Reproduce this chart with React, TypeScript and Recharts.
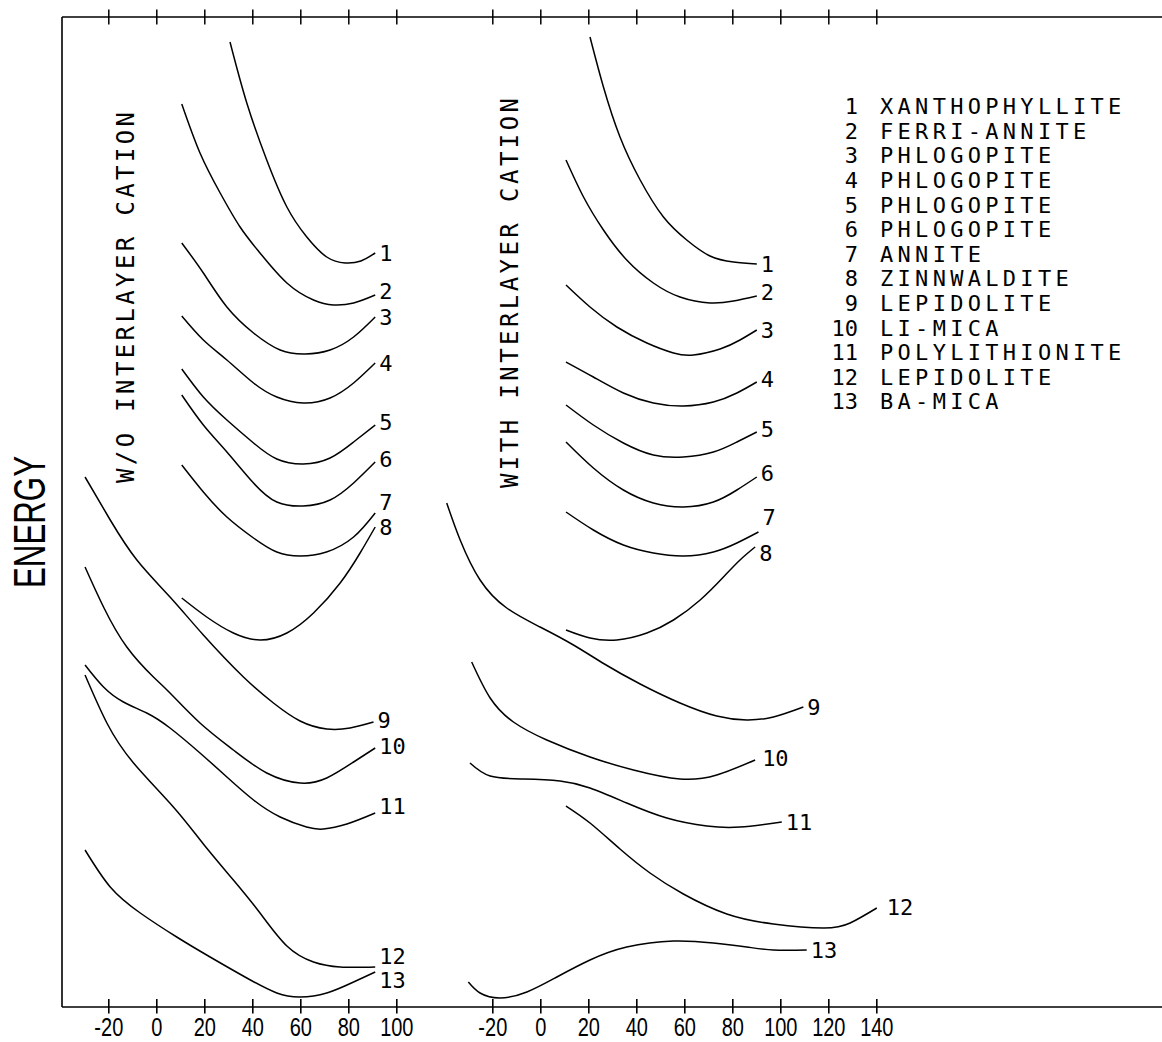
import React from 'react'
import { LineChart, Line, XAxis, YAxis, LabelList, ReferenceLine } from 'recharts'

type Pt = [number, number]

// x as printed under each panel, e = relative energy (arbitrary units, 0 at the baseline)
const leftTicks = [-20, 0, 20, 40, 60, 80, 100]
const rightTicks = [-20, 0, 20, 40, 60, 80, 100, 120, 140]
const PANEL_OFFSET = 160 // the right panel's 0 sits 160 units to the right of the left one

const minerals = [
  'XANTHOPHYLLITE',
  'FERRI-ANNITE',
  'PHLOGOPITE',
  'PHLOGOPITE',
  'PHLOGOPITE',
  'PHLOGOPITE',
  'ANNITE',
  'ZINNWALDITE',
  'LEPIDOLITE',
  'LI-MICA',
  'POLYLITHIONITE',
  'LEPIDOLITE',
  'BA-MICA',
]

// W/O interlayer cation
const wo1: Pt[] = [[30.5, 96.5], [37.5, 90.4], [45.8, 84.7], [54.2, 80.0], [62.5, 77.0], [70.8, 75.0], [78.5, 74.4], [85, 74.6], [91, 75.4]]
const wo2: Pt[] = [[10.4, 90.3], [18, 85.4], [26.4, 81.4], [34.7, 78.0], [43, 75.4], [54.2, 72.4], [65.3, 70.7], [73.6, 70.2], [82, 70.4], [91, 71.2]]
const wo3: Pt[] = [[10.4, 76.4], [19.4, 73.4], [29.2, 70.0], [40.3, 67.4], [51.4, 65.7], [61.8, 65.3], [72.2, 65.7], [82, 67.0], [91, 69.0]]
const wo4: Pt[] = [[10.4, 69.1], [19.4, 66.7], [29.2, 64.7], [40.3, 62.4], [50, 61.0], [61, 60.4], [72.2, 60.9], [82, 62.4], [91, 64.4]]
const wo5: Pt[] = [[10.4, 63.8], [19.4, 61.0], [29.2, 58.7], [40.3, 56.4], [50, 54.8], [61, 54.3], [72.2, 54.9], [82, 56.5], [91, 58.2]]
const wo6: Pt[] = [[10.4, 61.2], [19.4, 58.2], [29.2, 55.5], [40.3, 52.4], [50, 50.5], [61, 50.1], [72.2, 50.7], [82, 52.4], [91, 54.5]]
const wo7: Pt[] = [[10.4, 54.2], [19.4, 51.5], [29.2, 49.0], [40.3, 46.9], [50, 45.5], [59.7, 45.1], [70.7, 45.5], [82, 47.0], [91, 49.4]]
const wo8: Pt[] = [[10.4, 40.9], [20.8, 39.0], [31.9, 37.4], [43, 36.7], [54.2, 37.4], [65.3, 39.4], [76.4, 42.4], [84.7, 45.4], [91, 48.0]]
const wo9: Pt[] = [[-29.9, 53.0], [-19.4, 48.7], [-8.3, 44.7], [5.5, 41.0], [19.4, 37.2], [36.1, 33.0], [48.6, 30.4], [59.7, 28.6], [70.8, 27.8], [80.5, 27.9], [90.3, 28.5]]
const wo10: Pt[] = [[-29.9, 44.0], [-22.2, 40.0], [-12.5, 36.0], [-1.4, 33.0], [5.5, 31.4], [18, 28.4], [31.9, 25.7], [45.8, 23.4], [59.7, 22.4], [70.8, 22.9], [82, 24.5], [91, 25.9]]
const wo11: Pt[] = [[-29.9, 34.2], [-22.2, 32.0], [-13.9, 30.5], [-4.2, 29.4], [5.5, 27.9], [18, 25.4], [29.2, 23.0], [40.3, 20.7], [51.4, 19.0], [62.4, 18.0], [69.4, 17.8], [79.2, 18.3], [91, 19.4]]
const wo12: Pt[] = [[-29.9, 33.2], [-20.8, 28.4], [-9.7, 24.4], [6.9, 20.0], [19.4, 16.3], [31.9, 12.7], [43, 9.4], [54.2, 6.1], [65.3, 4.5], [76.4, 4.0], [91, 4.0]]
const wo13: Pt[] = [[-29.9, 15.7], [-19.4, 12.0], [-6.9, 9.4], [8.3, 7.0], [22.2, 5.0], [37.5, 2.9], [50, 1.4], [59.7, 1.0], [70.8, 1.4], [82, 2.5], [91, 3.5]]

// WITH interlayer cation
const with1: Pt[] = [[20.5, 97.0], [26.1, 92.0], [33, 87.0], [41.4, 82.7], [51.1, 79.0], [60.8, 76.7], [70.5, 75.1], [80.3, 74.5], [90, 74.3]]
const with2: Pt[] = [[10.5, 84.7], [17.8, 81.0], [26.1, 77.7], [35.8, 74.7], [46.9, 72.4], [58, 71.0], [70.5, 70.4], [80.3, 70.6], [90, 71.1]]
const with3: Pt[] = [[10.5, 72.2], [20.5, 70.0], [31.7, 68.0], [44.2, 66.4], [55.3, 65.4], [63.6, 65.2], [74.7, 65.8], [83, 66.7], [90, 67.7]]
const with4: Pt[] = [[10.5, 64.5], [21.9, 63.0], [34.4, 61.4], [46.9, 60.4], [59.4, 60.1], [71.9, 60.5], [81.7, 61.4], [90, 62.5]]
const with5: Pt[] = [[10.5, 60.2], [21.9, 58.2], [34.4, 56.4], [46.9, 55.2], [59.4, 55.0], [71.9, 55.5], [81.7, 56.5], [90, 57.5]]
const with6: Pt[] = [[10.5, 56.5], [21.9, 53.9], [34.4, 51.7], [46.9, 50.4], [59.4, 50.0], [71.9, 50.5], [81.7, 51.7], [90, 53.0]]
const with7: Pt[] = [[10.5, 49.5], [21.9, 47.7], [34.4, 46.2], [46.9, 45.4], [59.4, 45.1], [71.9, 45.5], [81.7, 46.4], [90.7, 47.5]]
const with8: Pt[] = [[10.5, 37.7], [20.5, 36.9], [31.7, 36.7], [44.2, 37.4], [55.3, 38.7], [66.4, 40.7], [76.1, 43.0], [83, 44.7], [89.3, 46.0]]
const with9: Pt[] = [[-39.2, 50.4], [-33.6, 46.7], [-25.3, 42.7], [-14.2, 39.9], [-0.3, 38.0], [13.6, 36.2], [26.5, 34.3], [41.4, 32.3], [58, 30.4], [73.3, 29.1], [85.8, 28.7], [96.9, 29.0], [109.4, 30.0]]
const with10: Pt[] = [[-28.8, 34.5], [-21.1, 30.9], [-11.4, 28.5], [2.5, 26.7], [20.5, 25.0], [38.6, 23.7], [58, 22.8], [73.3, 23.2], [89.3, 24.7]]
const with11: Pt[] = [[-29.5, 24.4], [-21.1, 23.1], [-7.3, 22.8], [8, 22.6], [20.5, 21.9], [35.8, 20.4], [52.5, 18.9], [69.2, 18.1], [83, 18.0], [100.4, 18.5]]
const with12: Pt[] = [[10.5, 20.1], [20.5, 18.4], [33, 15.8], [45.5, 13.4], [59.4, 11.3], [77.5, 9.3], [96.9, 8.3], [117.7, 7.9], [128.9, 8.4], [140, 9.9]]
const with13: Pt[] = [[-30.2, 2.5], [-25.3, 1.4], [-17, 0.9], [-5.8, 1.5], [6.7, 3.0], [20.5, 4.7], [35.8, 6.0], [55.3, 6.6], [71.9, 6.4], [85.8, 6.0], [96.9, 5.7], [110.8, 5.7]]

const woCurves = [wo1, wo2, wo3, wo4, wo5, wo6, wo7, wo8, wo9, wo10, wo11, wo12, wo13]
const withCurves = [with1, with2, with3, with4, with5, with6, with7, with8, with9, with10, with11, with12, with13]

// nudges for the curve numbers so they don't collide
const woLabelShift: Record<number, [number, number]> = { 2: [4, -4], 5: [4, -3], 6: [4, -3], 7: [4, -11], 9: [4, -2], 10: [4, -2], 11: [4, -7], 12: [4, -11], 13: [4, 8] }
const withLabelShift: Record<number, [number, number]> = { 2: [4, -4], 4: [4, -3], 5: [4, -3], 6: [4, -4], 7: [4, -15], 8: [4, 6], 10: [7, -2], 12: [10, -1] }

const X_DOMAIN: [number, number] = [-39.5, 418.83]
const Y_DOMAIN: [number, number] = [0, 99]

const allTicks = [...leftTicks, ...rightTicks.map((t) => t + PANEL_OFFSET)]
const tickText = (v: number) => String(v >= 130 ? v - PANEL_OFFSET : v)

const toRows = (pts: Pt[], shift: number) => pts.map(([x, e]) => ({ x: x + shift, e }))

const mono = '"DejaVu Sans Mono", monospace'
const sans = '"Liberation Sans", Arial, sans-serif'

// tick number hung under the lower end of a cross tick
const tickLabel = (text: string) => (props: any) => {
  const vb = props.viewBox || {}
  const cx = (vb.x ?? 0) + (vb.width ?? 0) / 2
  const bottom = (vb.y ?? 0) + (vb.height ?? 0)
  return (
    <g transform={`translate(${cx},${bottom + 14.5}) scale(0.8,1)`}>
      <text x={0} y={0} textAnchor="middle" dominantBaseline="central" fontFamily={sans} fontSize={25} fill="#000">
        {text}
      </text>
    </g>
  )
}

const endLabel = (num: number, last: number, shift: [number, number]) => (props: any) => {
  if (props.index !== last) return null
  return (
    <text
      key={`lbl-${num}`}
      x={props.x + shift[0]}
      y={props.y + shift[1]}
      dominantBaseline="central"
      fontFamily={mono}
      fontSize={22}
      fill="#000"
    >
      {num}
    </text>
  )
}

const App: React.FC = () => {
  const series = [
    ...woCurves.map((pts, i) => ({ id: `wo${i + 1}`, num: i + 1, rows: toRows(pts, 0), shift: woLabelShift[i + 1] || [4, 0] })),
    ...withCurves.map((pts, i) => ({ id: `with${i + 1}`, num: i + 1, rows: toRows(pts, PANEL_OFFSET), shift: withLabelShift[i + 1] || [4, 0] })),
  ]

  return (
    <div style={{ position: 'absolute', left: 0, top: 0, width: 1162, height: 1042, overflow: 'hidden', background: '#fff' }}>
      <LineChart width={1162} height={1042} margin={{ top: 17, right: 0, bottom: 35, left: 62 }}>
        <XAxis xAxisId="bottom" type="number" dataKey="x" domain={X_DOMAIN} allowDataOverflow ticks={allTicks} hide />
        <YAxis type="number" domain={Y_DOMAIN} allowDataOverflow hide width={0} />

        {/* frame: left, bottom and top edges */}
        <ReferenceLine xAxisId="bottom" x={X_DOMAIN[0]} stroke="#000" strokeWidth={1.6} ifOverflow="visible" />
        <ReferenceLine xAxisId="bottom" y={Y_DOMAIN[0]} stroke="#000" strokeWidth={1.6} ifOverflow="visible" />
        <ReferenceLine xAxisId="bottom" y={Y_DOMAIN[1]} stroke="#000" strokeWidth={1.6} ifOverflow="visible" />

        {/* cross ticks along the bottom (with their numbers) and the top edge */}
        {allTicks.map((t) => (
          <ReferenceLine
            key={`bt-${t}`}
            xAxisId="bottom"
            segment={[{ x: t, y: Y_DOMAIN[0] + 0.8 }, { x: t, y: Y_DOMAIN[0] - 0.65 }]}
            stroke="#000"
            strokeWidth={1.6}
            ifOverflow="visible"
            label={tickLabel(tickText(t))}
          />
        ))}
        {allTicks.map((t) => (
          <ReferenceLine
            key={`tt-${t}`}
            xAxisId="bottom"
            segment={[{ x: t, y: Y_DOMAIN[1] - 0.75 }, { x: t, y: Y_DOMAIN[1] + 0.75 }]}
            stroke="#000"
            strokeWidth={1.5}
            ifOverflow="visible"
          />
        ))}

        {series.map((s) => (
          <Line
            key={s.id}
            xAxisId="bottom"
            data={s.rows}
            dataKey="e"
            type="natural"
            stroke="#000"
            strokeWidth={1.5}
            dot={false}
            isAnimationActive={false}
          >
            <LabelList dataKey="e" content={endLabel(s.num, s.rows.length - 1, s.shift as [number, number])} />
          </Line>
        ))}

        <text
          x={29}
          y={522}
          transform="rotate(-90 29 522)"
          textAnchor="middle"
          dominantBaseline="central"
          fontFamily={sans}
          fontSize={44}
          textLength={132}
          lengthAdjust="spacingAndGlyphs"
          fill="#000"
        >
          ENERGY
        </text>
        <text
          x={126}
          y={297.5}
          transform="rotate(-90 126 297.5)"
          textAnchor="middle"
          dominantBaseline="central"
          fontFamily={mono}
          fontSize={24}
          textLength={371}
          fill="#000"
        >
          W/O INTERLAYER CATION
        </text>
        <text
          x={510}
          y={293}
          transform="rotate(-90 510 293)"
          textAnchor="middle"
          dominantBaseline="central"
          fontFamily={mono}
          fontSize={24}
          textLength={390}
          fill="#000"
        >
          WITH INTERLAYER CATION
        </text>
        {minerals.map((name, i) => (
          <g key={`leg-${i}`}>
            <text x={858} y={106.7 + i * 24.6} textAnchor="end" dominantBaseline="central" fontFamily={mono} fontSize={22} fill="#000">
              {i + 1}
            </text>
            <text x={880} y={106.7 + i * 24.6} dominantBaseline="central" fontFamily={mono} fontSize={22} letterSpacing={4.3} fill="#000">
              {name}
            </text>
          </g>
        ))}
      </LineChart>
    </div>
  )
}

export default App
